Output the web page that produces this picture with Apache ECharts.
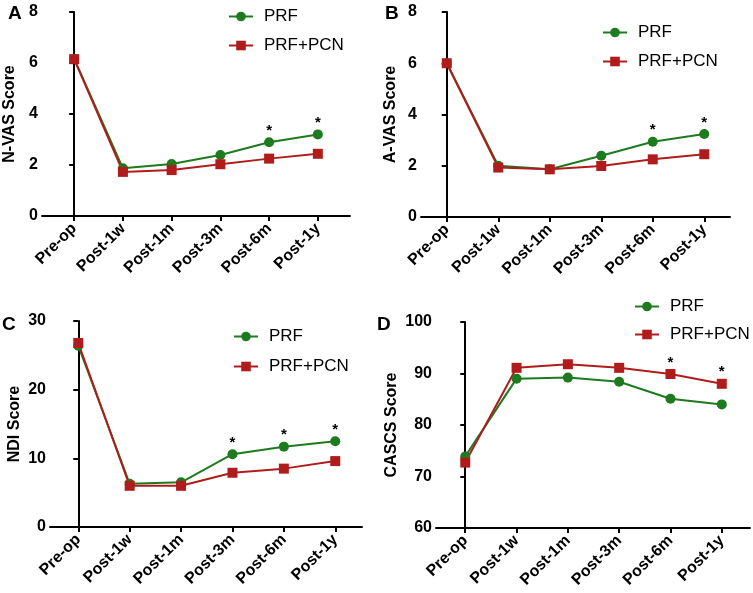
<!DOCTYPE html>
<html>
<head>
<meta charset="utf-8">
<script src="https://cdn.jsdelivr.net/npm/echarts@6/dist/echarts.min.js"></script>
<style>
  html, body { margin: 0; padding: 0; background: #fff; }
  #main { width: 753px; height: 593px; }
</style>
</head>
<body>
<div id="main"></div>
<script>
// time points (x categories)
var categories = ['Pre-op', 'Post-1w', 'Post-1m', 'Post-3m', 'Post-6m', 'Post-1y'];

// A: N-VAS
var nvasPRF = [6.17, 1.87, 2.04, 2.39, 2.89, 3.2];
var nvasPCN = [6.15, 1.73, 1.8, 2.03, 2.25, 2.44];
var nvasSig = [4, 5];
// B: A-VAS
var avasPRF = [6.0, 2.0, 1.86, 2.39, 2.94, 3.24];
var avasPCN = [6.0, 1.93, 1.86, 1.99, 2.25, 2.45];
var avasSig = [4, 5];
// C: NDI
var ndiPRF = [26.4, 6.3, 6.5, 10.6, 11.7, 12.5];
var ndiPCN = [26.8, 6.0, 6.0, 7.9, 8.5, 9.6];
var ndiSig = [3, 4, 5];
// D: CASCS
var cascsPRF = [73.9, 89.0, 89.2, 88.4, 85.1, 84.0];
var cascsPCN = [72.7, 91.1, 91.8, 91.1, 89.9, 88.0];
var cascsSig = [4, 5];

var seriesNames = ['PRF', 'PRF+PCN'];
var GREEN = '#1e7a1e';
var RED = '#b01c1c';
var FONT = 'Liberation Sans, Arial, sans-serif';

var myChart = echarts.init(document.getElementById('main'));

// panel layout: grid box, x range, y range, legend spot, asterisk series
var panels = [
  { grid: { left: 42, top: 12, width: 308, height: 204 }, xmin: -0.66, xmax: 5.66,
    ymin: 0, ymax: 8, step: 2, name: 'N-VAS Score', nameGap: 24,
    prf: nvasPRF, pcn: nvasPCN, sig: nvasSig, sigOn: 0, legend: { left: 223, top: 3, itemGap: 12 } },
  { grid: { left: 421, top: 12, width: 309, height: 205 }, xmin: -0.5, xmax: 5.5,
    ymin: 0, ymax: 8, step: 2, name: 'A-VAS Score', nameGap: 22,
    prf: avasPRF, pcn: avasPCN, sig: avasSig, sigOn: 0, legend: { left: 597, top: 19, itemGap: 12 } },
  { grid: { left: 50, top: 321, width: 312, height: 206 }, xmin: -0.55, xmax: 5.52,
    ymin: 0, ymax: 30, step: 10, name: 'NDI Score', nameGap: 27,
    prf: ndiPRF, pcn: ndiPCN, sig: ndiSig, sigOn: 0, legend: { left: 228, top: 323, itemGap: 13 } },
  { grid: { left: 436, top: 322, width: 314, height: 206 }, xmin: -0.57, xmax: 5.55,
    ymin: 60, ymax: 100, step: 10, name: 'CASCS Score', nameGap: 36,
    prf: cascsPRF, pcn: cascsPCN, sig: cascsSig, sigOn: 1, legend: { left: 629, top: 293, itemGap: 11 } }
];

var letters = [
  { t: 'A', x: 8, y: 4 }, { t: 'B', x: 385, y: 4 },
  { t: 'C', x: 2, y: 315 }, { t: 'D', x: 377, y: 315 }
];

var tickPos = categories.map(function (c, i) { return i; });

function buildData(vals, sig, withStar) {
  return vals.map(function (v, i) {
    var d = { value: [i, v] };
    if (withStar && sig.indexOf(i) >= 0) {
      d.label = { show: true, formatter: '*', position: 'top', distance: -1,
        color: '#000', fontSize: 15, fontWeight: 'bold', fontFamily: FONT };
    }
    return d;
  });
}

var option = {
  animation: false,
  backgroundColor: '#fff',
  grid: [], xAxis: [], yAxis: [], legend: [], series: [],
  graphic: letters.map(function (l) {
    return { type: 'text', left: l.x, top: l.y,
      style: { text: l.t, font: 'bold 19px ' + FONT, fill: '#000' } };
  })
};

panels.forEach(function (p, k) {
  option.grid.push(p.grid);
  option.xAxis.push({
    type: 'value', gridIndex: k, min: p.xmin, max: p.xmax,
    splitLine: { show: false },
    axisLine: { onZero: false, lineStyle: { color: '#000', width: 2 } },
    axisTick: { show: true, customValues: tickPos, length: 5, lineStyle: { color: '#000', width: 2 } },
    axisLabel: {
      customValues: tickPos, rotate: 45, margin: 10,
      color: '#000', fontWeight: 'bold', fontSize: 16, fontFamily: FONT,
      formatter: function (v) { return categories[Math.round(v)]; }
    }
  });
  option.yAxis.push({
    type: 'value', gridIndex: k, min: p.ymin, max: p.ymax, interval: p.step,
    name: p.name, nameLocation: 'middle', nameGap: p.nameGap, nameRotate: 90,
    nameTextStyle: { color: '#000', fontWeight: 'bold', fontSize: 16, fontFamily: FONT },
    splitLine: { show: false },
    axisLine: { show: true, lineStyle: { color: '#000', width: 2 } },
    axisTick: { show: true, length: 5, lineStyle: { color: '#000', width: 2 } },
    axisLabel: { color: '#000', fontWeight: 'bold', fontSize: 16, fontFamily: FONT, margin: 4 }
  });
  option.legend.push({
    left: p.legend.left, top: p.legend.top, orient: 'vertical', itemGap: p.legend.itemGap,
    itemWidth: 24, itemHeight: 12,
    data: seriesNames,
    textStyle: { color: '#000', fontSize: 17, lineHeight: 16, fontFamily: FONT, padding: [0, 0, 0, 6] }
  });
  option.series.push({
    name: seriesNames[0], type: 'line', xAxisIndex: k, yAxisIndex: k,
    data: buildData(p.prf, p.sig, p.sigOn === 0),
    symbol: 'circle', symbolSize: 10,
    itemStyle: { color: GREEN }, lineStyle: { color: GREEN, width: 2 }
  });
  option.series.push({
    name: seriesNames[1], type: 'line', xAxisIndex: k, yAxisIndex: k,
    data: buildData(p.pcn, p.sig, p.sigOn === 1),
    symbol: 'rect', symbolSize: 10,
    itemStyle: { color: RED }, lineStyle: { color: RED, width: 2 }
  });
});

myChart.setOption(option);
</script>
</body>
</html>
